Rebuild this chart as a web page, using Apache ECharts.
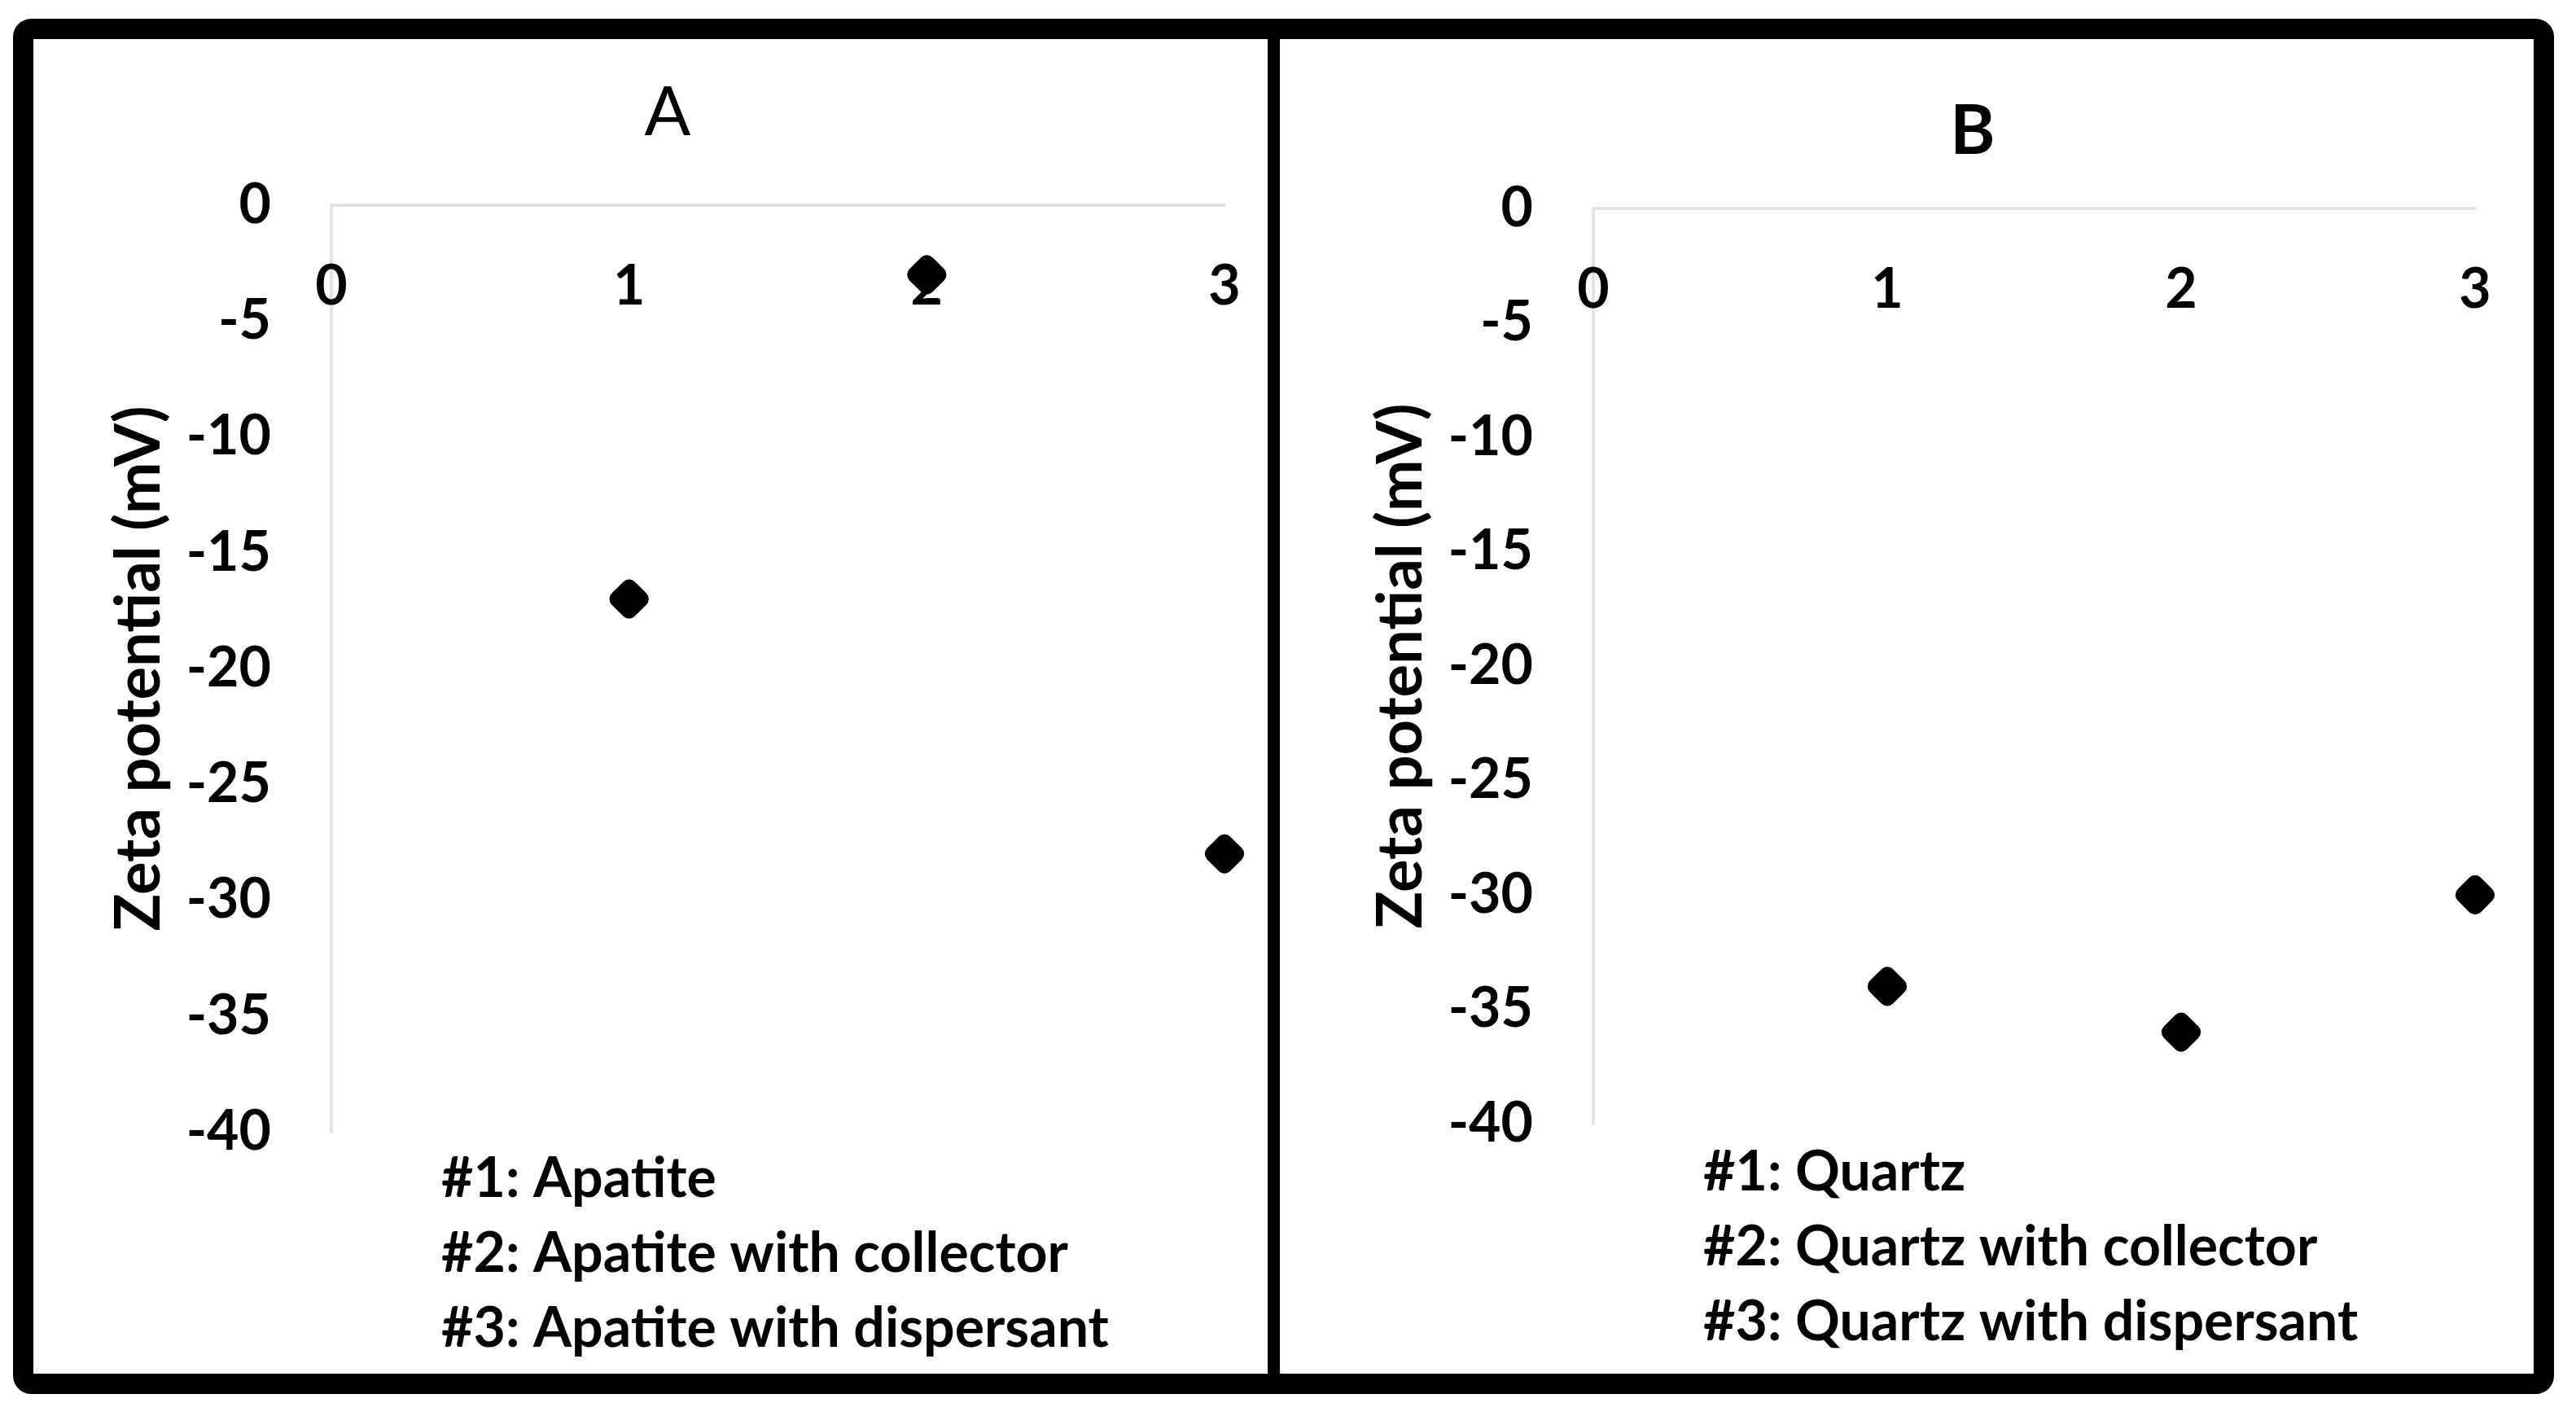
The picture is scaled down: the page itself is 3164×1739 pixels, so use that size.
<!DOCTYPE html>
<html>
<head>
<meta charset="utf-8">
<script src="https://cdn.jsdelivr.net/npm/echarts@6/dist/echarts.min.js"></script>
<style>
  html, body { margin: 0; padding: 0; background: #fff; }
  #chart { width: 3164px; height: 1739px; }
</style>
</head>
<body>
<div id="chart"></div>
<script>
// sample number on x, zeta potential (mV) on y
var samplesA = [1, 2, 3];
var zetaA = [-17, -3, -28];
var samplesB = [1, 2, 3];
var zetaB = [-34, -36, -30];

var panelTitles = ['A', 'B'];
var yName = 'Zeta potential (mV)';
var notesA = ['#1: Apatite', '#2: Apatite with collector', '#3: Apatite with dispersant'];
var notesB = ['#1: Quartz', '#2: Quartz with collector', '#3: Quartz with dispersant'];

var myChart = echarts.init(document.getElementById('chart'));
var FONT = 'Lato';

function pairs(xs, ys) {
    return xs.map(function (x, i) { return [x, ys[i]]; });
}

function xAxisFor(idx) {
    return {
        type: 'value',
        gridIndex: idx,
        position: 'top',   // line sits at y = 0, labels hang below it
        min: 0,
        max: 3,
        interval: 1,
        axisLine: { onZero: false, lineStyle: { color: '#e4e4e4', width: 4 } },
        axisTick: { show: false },
        splitLine: { show: false },
        axisLabel: { inside: true, margin: 66, color: '#000', fontFamily: FONT, fontWeight: 'bold', fontSize: 68 }
    };
}

function yAxisFor(idx) {
    return {
        type: 'value',
        gridIndex: idx,
        min: -40,
        max: 0,
        interval: 5,
        name: yName,
        nameLocation: 'middle',
        nameGap: 198,
        nameTextStyle: { color: '#000', fontFamily: FONT, fontWeight: 'bold', fontSize: 76 },
        axisLine: { show: true, onZero: false, lineStyle: { color: '#e4e4e4', width: 4 } },
        axisTick: { show: false },
        splitLine: { show: false },
        axisLabel: { margin: 74, color: '#000', fontFamily: FONT, fontWeight: 'bold', fontSize: 68 }
    };
}

function noteTexts(lines, left, top) {
    return lines.map(function (t, i) {
        return {
            type: 'text',
            left: left,
            top: top + i * 92,
            style: { text: t, fill: '#000', font: 'bold 68px ' + FONT }
        };
    });
}

var option = {
    backgroundColor: '#fff',
    animation: false,
    title: [
        {
            text: panelTitles[0], left: 815, top: 92, textAlign: 'center',
            textStyle: { color: '#000', fontFamily: FONT, fontWeight: 'normal', fontSize: 84 }
        },
        {
            text: panelTitles[1], left: 2418, top: 115, textAlign: 'center',
            textStyle: { color: '#000', fontFamily: FONT, fontWeight: 'bold', fontSize: 84 }
        }
    ],
    grid: [
        { left: 407, top: 252, width: 1097, height: 1138 },
        { left: 1957, top: 256, width: 1083, height: 1124 }
    ],
    xAxis: [xAxisFor(0), xAxisFor(1)],
    yAxis: [yAxisFor(0), yAxisFor(1)],
    series: [
        {
            type: 'scatter', xAxisIndex: 0, yAxisIndex: 0,
            data: pairs(samplesA, zetaA),
            symbol: 'roundRect', symbolSize: 40, symbolRotate: 45,
            itemStyle: { color: '#000', opacity: 1 }
        },
        {
            type: 'scatter', xAxisIndex: 1, yAxisIndex: 1,
            data: pairs(samplesB, zetaB),
            symbol: 'roundRect', symbolSize: 40, symbolRotate: 45,
            itemStyle: { color: '#000', opacity: 1 }
        }
    ],
    graphic: [
        // outer frame and divider
        { type: 'rect', shape: { x: 28.5, y: 35.5, width: 3096, height: 1664, r: 10 },
          style: { fill: null, stroke: '#000', lineWidth: 25 }, z: 100 },
        { type: 'rect', shape: { x: 1557, y: 40, width: 15, height: 1660 },
          style: { fill: '#000' }, z: 100 }
    ].concat(noteTexts(notesA, 542, 1414)).concat(noteTexts(notesB, 2092, 1406))
};

myChart.setOption(option);
</script>
</body>
</html>
